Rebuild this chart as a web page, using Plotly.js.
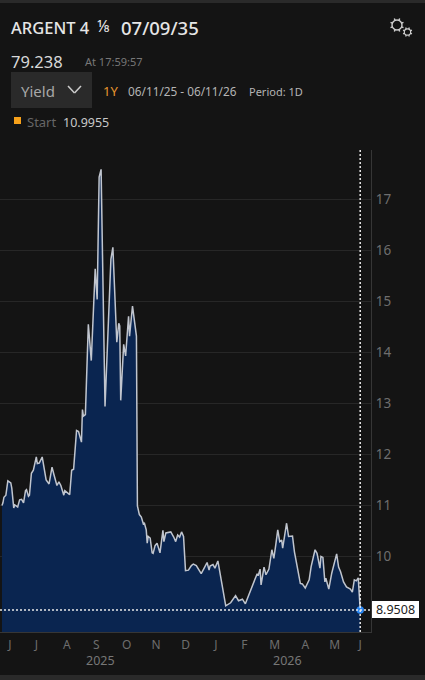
<!DOCTYPE html>
<html>
<head>
<meta charset="utf-8">
<script src="https://cdn.plot.ly/plotly-3.0.1.min.js"></script>
<style>html,body{margin:0;padding:0;background:#141414;overflow:hidden}#chart{width:425px;height:680px}</style>
</head>
<body>
<div id="chart"></div>
<script>
const startDate = "2025-06-11";
const daysSinceStart = [0,1,2,4,6,9,10,12,13,16,18,20,22,24,25,27,28,30,32,35,36,38,41,43,45,48,51,53,55,56,58,60,63,64,69,71,73,76,78,81,82,83,85,88,91,95,97,99,101,105,111,113,117,119,120,121,124,126,129,130,133,136,137,138,140,142,144,145,147,148,149,151,153,154,156,158,161,164,165,167,172,175,177,179,181,183,185,187,190,193,195,198,200,203,206,209,211,212,215,217,220,222,226,228,233,238,241,245,248,251,255,260,261,263,264,267,269,272,275,277,279,281,283,285,286,290,292,296,298,301,304,306,309,313,315,319,321,324,325,327,329,330,333,336,339,341,343,345,348,351,355,357,359,361,363,364,365];
const yieldValues = [10.9955,11.05,11.16,11.20,11.48,11.44,11.34,10.95,11.01,10.97,11.11,11.12,11.05,11.29,11.31,11.18,11.20,11.63,11.69,11.95,11.82,11.83,11.95,11.70,11.50,11.42,11.75,11.60,11.47,11.39,11.46,11.39,11.20,11.29,11.21,11.69,11.71,12.47,12.45,12.24,12.88,12.75,12.78,14.55,13.84,15.64,15.04,17.44,17.59,12.94,15.83,16.06,14.20,14.57,14.52,13.06,14.16,13.93,14.71,14.32,14.91,14.45,14.32,10.99,10.82,10.77,10.64,10.66,10.52,10.26,10.39,10.36,10.07,10.06,10.21,10.26,10.07,10.51,10.29,10.46,10.48,10.38,10.29,10.42,10.38,10.48,10.39,9.72,9.73,9.82,9.85,9.82,9.75,9.66,9.77,9.88,9.73,9.81,9.84,9.77,9.91,9.70,9.28,9.03,9.09,9.23,9.13,9.16,9.07,9.21,9.41,9.66,9.62,9.75,9.44,9.79,9.64,9.75,10.13,9.96,10.23,10.52,10.29,10.32,10.16,10.65,10.39,10.40,10.09,9.77,9.47,9.46,9.38,9.54,9.80,10.13,10.06,9.77,10.00,9.98,9.50,9.57,9.36,9.67,9.93,10.05,9.79,9.70,9.50,9.40,9.36,9.30,9.54,9.52,9.58,9.34,8.9508];
const monthTickDates = ["2025-06-19","2025-07-16","2025-08-16","2025-09-15","2025-10-16","2025-11-15","2025-12-15","2026-01-15","2026-02-13","2026-03-16","2026-04-16","2026-05-16","2026-06-11"];
const monthTickLabels = ["J","J","A","S","O","N","D","J","F","M","A","M","J"];
const yearLabelDates = ["2025-09-19","2026-03-29"];
const yearLabels = ["2025","2026"];
const yTicks = [10,11,12,13,14,15,16,17];

const W = 425, H = 680, L = 0, R = 54, T = 150, B = 48;
const px = x => (x - L) / (W - L - R);
const py = y => 1 - (y - T) / (H - T - B);
const dates = daysSinceStart.map(d => {
  const t = new Date(startDate + "T00:00:00Z");
  t.setUTCDate(t.getUTCDate() + d);
  return t.toISOString().slice(0, 10);
});
const lastDate = dates[dates.length - 1];
const lastValue = yieldValues[yieldValues.length - 1];
const FONT = '"Noto Sans", sans-serif';

function label(text, x, y, size, color, extra) {
  return Object.assign({
    text, x: px(x), y: py(y), xref: "paper", yref: "paper",
    xanchor: "left", yanchor: "middle", showarrow: false, borderpad: 0, borderwidth: 0,
    font: {family: FONT, size, color}
  }, extra || {});
}
function rect(x0, y0, x1, y1, color) {
  return {type: "rect", xref: "paper", yref: "paper", x0: px(x0), x1: px(x1), y0: py(y0), y1: py(y1),
          fillcolor: color, line: {width: 0}, layer: "below"};
}
function seg(x0, y0, x1, y1, color, w) {
  return {type: "line", xref: "paper", yref: "paper", x0: px(x0), x1: px(x1), y0: py(y0), y1: py(y1),
          line: {color, width: w}};
}
function gear(cx, cy, r, t, w) {
  const out = [{type: "circle", xref: "paper", yref: "paper", x0: px(cx - r), x1: px(cx + r),
                y0: py(cy + r), y1: py(cy - r), line: {color: "#d0d0d0", width: w}}];
  for (let i = 0; i < 8; i++) {
    const a = i * Math.PI / 4 + Math.PI / 8;
    out.push(seg(cx + r * Math.cos(a), cy + r * Math.sin(a),
                 cx + (r + t) * Math.cos(a), cy + (r + t) * Math.sin(a), "#d0d0d0", w));
  }
  return out;
}

const titleFont = {family: FONT, size: 16.5, color: "#e6e6e6", weight: 500};
const annotations = [
  label("ARGENT 4", 10.5, 27, 16.5, "#e6e6e6", {font: titleFont}),
  label("⅛", 97, 26, 16, "#e6e6e6"),
  label("07/09/35", 120.5, 27, 18.5, "#e6e6e6", {font: Object.assign({}, titleFont, {size: 18.5})}),
  label("79.238", 10.5, 61, 16.5, "#d8d8d8"),
  label("At 17:59:57", 84.5, 62, 11, "#777777"),
  label("Yield", 20.5, 91, 15, "#a8a8a8"),
  label("1Y", 103.5, 91, 13, "#e8962e"),
  label("06/11/25 - 06/11/26", 127.5, 91, 11.8, "#b4b4b4"),
  label("Period: 1D", 248.5, 91, 11, "#b4b4b4"),
  label("Start", 26.5, 122, 13, "#666666"),
  label("10.9955", 62.5, 122, 12.5, "#c8c8c8"),
  {text: lastValue.toFixed(4), x: px(372), y: lastValue, xref: "paper", yref: "y",
   xanchor: "left", yanchor: "middle", showarrow: false, bgcolor: "#ffffff", align: "center",
   width: 47, height: 17, borderpad: 0, borderwidth: 0, font: {family: FONT, size: 12.5, color: "#222222"}}
];
yearLabels.forEach((t, i) => annotations.push({
  text: t, x: yearLabelDates[i], y: py(660), xref: "x", yref: "paper", xanchor: "center", yanchor: "middle",
  showarrow: false, borderpad: 0, borderwidth: 0, font: {family: FONT, size: 12.5, color: "#777777"}
}));

const shapes = [
  rect(0, 0, 425, 3, "#2a2a2a"),
  rect(0, 675, 425, 680, "#2a2a2a"),
  rect(11, 72, 92, 108, "#2a2a2a"),
  rect(14, 117, 21, 124, "#f7a11a"),
  seg(68, 86, 74.5, 93, "#cccccc", 1.5),
  seg(74.5, 93, 81, 86, "#cccccc", 1.5),
  ...gear(397, 25, 5, 2, 1.4),
  ...gear(407.5, 32, 3.2, 1.6, 1.2),
  {type: "line", xref: "x", yref: "paper", x0: lastDate, x1: lastDate, y0: 0, y1: 1,
   line: {color: "#e8e8e8", width: 1.5, dash: "2px,2px"}},
  {type: "line", xref: "paper", yref: "y", x0: 0, x1: 1, y0: lastValue, y1: lastValue,
   line: {color: "#e8e8e8", width: 1.5, dash: "2px,2px"}}
];

const traces = [
  {x: dates, y: yieldValues, type: "scatter", mode: "lines", fill: "tozeroy", fillcolor: "#0a2550",
   line: {color: "#c0c5ce", width: 1.5}, hoverinfo: "skip"},
  {x: [lastDate], y: [lastValue], type: "scatter", mode: "markers", cliponaxis: false,
   marker: {color: "#2b86f0", size: 7.5}, hoverinfo: "skip"}
];

const layout = {
  width: W, height: H, showlegend: false,
  paper_bgcolor: "#141414", plot_bgcolor: "#141414",
  margin: {l: L, r: R, t: T, b: B, pad: 0},
  xaxis: {type: "date", range: ["2025-06-09", "2026-06-22"], tickmode: "array",
          tickvals: monthTickDates, ticktext: monthTickLabels, tickangle: 0,
          showgrid: false, zeroline: false, showline: true, linecolor: "#363636", linewidth: 1,
          ticks: "outside", ticklen: 2, tickcolor: "rgba(0,0,0,0)", tickfont: {family: FONT, size: 12, color: "#6e6e6e"}},
  yaxis: {range: [8.517, 17.97], side: "right", tickmode: "array", tickvals: yTicks,
          ticktext: yTicks.map(String), showgrid: true, gridcolor: "#272727", gridwidth: 1,
          zeroline: false, showline: true, linecolor: "#363636", linewidth: 1,
          ticks: "", ticklabelstandoff: 1, tickfont: {family: FONT, size: 13.5, color: "#6e6e6e"}},
  annotations, shapes
};
Plotly.newPlot("chart", traces, layout, {displayModeBar: false, staticPlot: true});
</script>
</body>
</html>
